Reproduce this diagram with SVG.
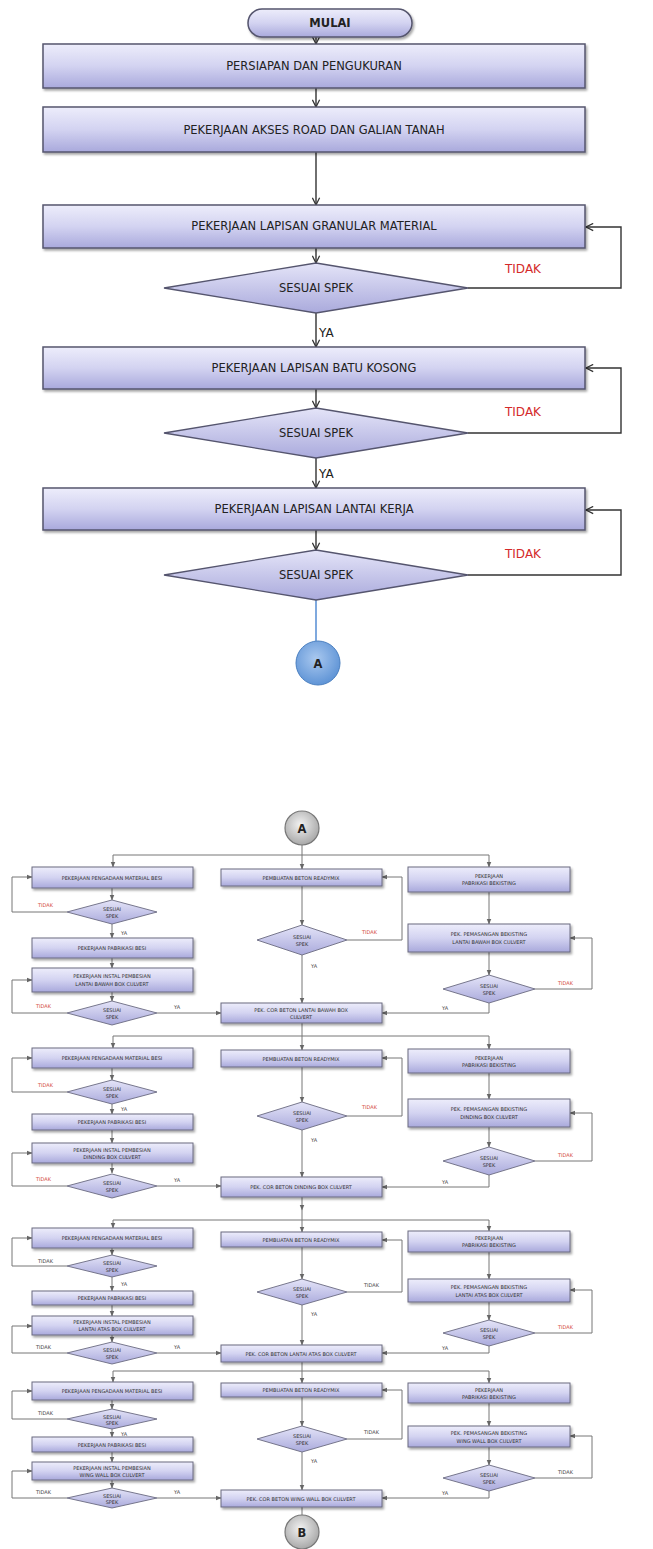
<svg xmlns="http://www.w3.org/2000/svg" width="653" height="1549" viewBox="0 0 653 1549">
  <defs>
    <linearGradient id="boxFill" x1="0" y1="0" x2="0" y2="1">
      <stop offset="0" stop-color="#ededfb"/>
      <stop offset="0.5" stop-color="#d3d3f1"/>
      <stop offset="1" stop-color="#a9a9dc"/>
    </linearGradient>
    <linearGradient id="diaFill" x1="0" y1="0" x2="0" y2="1">
      <stop offset="0" stop-color="#e4e4f8"/>
      <stop offset="1" stop-color="#aaaadc"/>
    </linearGradient>
    <radialGradient id="blueDot" cx="0.45" cy="0.4" r="0.6">
      <stop offset="0" stop-color="#a9c8ef"/>
      <stop offset="1" stop-color="#5f94d6"/>
    </radialGradient>
    <radialGradient id="grayDot" cx="0.45" cy="0.4" r="0.6">
      <stop offset="0" stop-color="#f2f2f2"/>
      <stop offset="1" stop-color="#a8a8a8"/>
    </radialGradient>
    <filter id="shadow" x="-5%" y="-20%" width="110%" height="150%">
      <feDropShadow dx="1.5" dy="2" stdDeviation="1" flood-color="#000" flood-opacity="0.35"/>
    </filter>
    <marker id="chev" viewBox="0 0 10 10" refX="9" refY="5" markerWidth="9" markerHeight="9" orient="auto" markerUnits="userSpaceOnUse">
      <path d="M1,1 L9,5 L1,9" fill="none" stroke="#333" stroke-width="1.4"/>
    </marker>
    <marker id="tri" viewBox="0 0 10 10" refX="9" refY="5" markerWidth="6" markerHeight="6" orient="auto" markerUnits="userSpaceOnUse">
      <path d="M0,1 L10,5 L0,9 Z" fill="#666"/>
    </marker>
  </defs>
  <style>
    .box { fill: url(#boxFill); stroke: #55556e; stroke-width: 1.5; filter: url(#shadow); }
    .sbox { fill: url(#boxFill); stroke: #6a6a80; stroke-width: 1; filter: url(#shadow); }
    .dia { fill: url(#diaFill); stroke: #55556e; stroke-width: 1.3; }
    .sdia { fill: url(#diaFill); stroke: #6a6a80; stroke-width: 0.9; }
    .t { font-family: "DejaVu Sans", Verdana, sans-serif; font-size: 11.5px; fill: #222; text-anchor: middle; dominant-baseline: central; }
    .st { font-family: "DejaVu Sans", Verdana, sans-serif; font-size: 5px; fill: #333; text-anchor: middle; dominant-baseline: central; }
    .no { font-family: "DejaVu Sans", Verdana, sans-serif; font-size: 12px; fill: #d42a2a; dominant-baseline: central; }
    .yes { font-family: "DejaVu Sans", Verdana, sans-serif; font-size: 12px; fill: #222; dominant-baseline: central; }
    .sno { font-family: "DejaVu Sans", Verdana, sans-serif; font-size: 5px; fill: #d44a3a; dominant-baseline: central; }
    .snog { font-family: "DejaVu Sans", Verdana, sans-serif; font-size: 5px; fill: #444; dominant-baseline: central; }
    .syes { font-family: "DejaVu Sans", Verdana, sans-serif; font-size: 5px; fill: #444; dominant-baseline: central; }
    .ln { fill: none; stroke: #333; stroke-width: 1.4; }
    .lna { fill: none; stroke: #333; stroke-width: 1.4; marker-end: url(#chev); }
    .sl { fill: none; stroke: #777; stroke-width: 1; }
    .sla { fill: none; stroke: #777; stroke-width: 1; marker-end: url(#tri); }
  </style>

  <!-- ===== connectors ===== -->
  <g id="connectors">
    <!-- upper flow -->
    <path class="lna" d="M316,37 V44"/>
    <path class="lna" d="M316,88 V107"/>
    <path class="lna" d="M316,152 V205"/>
    <path class="lna" d="M316,248 V263"/>
    <path class="lna" d="M468,288 H621 V227 H586"/>
    <path class="lna" d="M316,313 V347"/>
    <path class="lna" d="M316,389 V408"/>
    <path class="lna" d="M468,433 H621 V368 H586"/>
    <path class="lna" d="M316,458 V488"/>
    <path class="lna" d="M316,530 V550"/>
    <path class="lna" d="M468,575 H621 V510 H586"/>
    <path d="M316,600 V641" fill="none" stroke="#5f94d6" stroke-width="1.6"/>

    <!-- lower flow, section 1: bottom slab -->
    <path class="sl" d="M302,845 V855"/>
    <path class="sl" d="M113,855 H489"/>
    <path class="sla" d="M113,855 V867"/>
    <path class="sla" d="M302,855 V869"/>
    <path class="sla" d="M489,855 V867"/>
    <path class="sla" d="M112,888 V900"/>
    <path class="sla" d="M67,912 H12 V877 H32"/>
    <path class="sla" d="M112,924 V938"/>
    <path class="sla" d="M112,958 V968"/>
    <path class="sla" d="M112,992 V1001"/>
    <path class="sla" d="M67,1013 H12 V980 H32"/>
    <path class="sla" d="M157,1013 H221"/>
    <path class="sla" d="M302,886 V925"/>
    <path class="sla" d="M347,940 H402 V877 H382"/>
    <path class="sla" d="M302,955 V1003"/>
    <path class="sla" d="M489,892 V924"/>
    <path class="sla" d="M489,952 V975"/>
    <path class="sla" d="M535,989 H592 V938 H570"/>
    <path class="sla" d="M489,1003 V1013 H382"/>

    <!-- section 2: walls -->
    <path class="sl" d="M302,1023 V1036"/>
    <path class="sl" d="M113,1036 H489"/>
    <path class="sla" d="M113,1036 V1048"/>
    <path class="sla" d="M302,1036 V1050"/>
    <path class="sla" d="M489,1036 V1049"/>
    <path class="sla" d="M112,1068 V1080"/>
    <path class="sla" d="M67,1092 H12 V1058 H32"/>
    <path class="sla" d="M112,1104 V1114"/>
    <path class="sla" d="M112,1130 V1143"/>
    <path class="sla" d="M112,1163 V1173"/>
    <path class="sla" d="M67,1186 H12 V1153 H32"/>
    <path class="sla" d="M157,1186 H221"/>
    <path class="sla" d="M302,1067 V1102"/>
    <path class="sla" d="M347,1116 H402 V1058 H382"/>
    <path class="sla" d="M302,1130 V1177"/>
    <path class="sla" d="M489,1073 V1099"/>
    <path class="sla" d="M489,1127 V1147"/>
    <path class="sla" d="M535,1161 H592 V1113 H570"/>
    <path class="sla" d="M489,1175 V1187 H382"/>

    <!-- section 3: top slab -->
    <path class="sla" d="M302,1197 V1210"/>
    <path class="sl" d="M302,1210 V1220"/>
    <path class="sl" d="M113,1220 H489"/>
    <path class="sla" d="M113,1220 V1228"/>
    <path class="sla" d="M302,1220 V1232"/>
    <path class="sla" d="M489,1220 V1231"/>
    <path class="sla" d="M112,1248 V1255"/>
    <path class="sla" d="M67,1266 H12 V1238 H32"/>
    <path class="sla" d="M112,1277 V1291"/>
    <path class="sla" d="M112,1305 V1316"/>
    <path class="sla" d="M112,1335 V1342"/>
    <path class="sla" d="M67,1353 H12 V1326 H32"/>
    <path class="sla" d="M157,1353 H221"/>
    <path class="sla" d="M302,1247 V1279"/>
    <path class="sla" d="M347,1292 H402 V1240 H382"/>
    <path class="sla" d="M302,1305 V1345"/>
    <path class="sla" d="M489,1252 V1279"/>
    <path class="sla" d="M489,1302 V1320"/>
    <path class="sla" d="M535,1333 H592 V1290 H570"/>
    <path class="sla" d="M489,1346 V1353 H382"/>

    <!-- section 4: wing walls -->
    <path class="sl" d="M302,1362 V1371"/>
    <path class="sl" d="M113,1371 H489"/>
    <path class="sla" d="M113,1371 V1382"/>
    <path class="sla" d="M302,1371 V1383"/>
    <path class="sla" d="M489,1371 V1383"/>
    <path class="sla" d="M112,1400 V1409"/>
    <path class="sla" d="M67,1419 H12 V1391 H32"/>
    <path class="sla" d="M112,1429 V1437"/>
    <path class="sla" d="M112,1452 V1462"/>
    <path class="sla" d="M112,1480 V1488"/>
    <path class="sla" d="M67,1498 H12 V1471 H32"/>
    <path class="sla" d="M157,1498 H221"/>
    <path class="sla" d="M302,1397 V1426"/>
    <path class="sla" d="M347,1439 H402 V1390 H382"/>
    <path class="sla" d="M302,1452 V1490"/>
    <path class="sla" d="M489,1403 V1426"/>
    <path class="sla" d="M489,1447 V1465"/>
    <path class="sla" d="M535,1478 H592 V1436 H570"/>
    <path class="sla" d="M489,1491 V1498 H382"/>
    <path class="sl" d="M302,1507 V1515"/>
  </g>

  <!-- ===== upper flow nodes ===== -->
  <g id="start">
    <rect x="248" y="9" width="164" height="28" rx="14" ry="14" class="box"/>
    <text x="330" y="23" class="t" font-weight="bold">MULAI</text>
  </g>
  <g id="persiapan">
    <rect x="43" y="44" width="542" height="44" class="box"/>
    <text x="314" y="66" class="t">PERSIAPAN DAN PENGUKURAN</text>
  </g>
  <g id="akses-road">
    <rect x="43" y="107" width="542" height="45" class="box"/>
    <text x="314" y="130" class="t">PEKERJAAN AKSES ROAD DAN GALIAN TANAH</text>
  </g>
  <g id="granular">
    <rect x="43" y="205" width="542" height="43" class="box"/>
    <text x="314" y="226" class="t">PEKERJAAN LAPISAN GRANULAR MATERIAL</text>
  </g>
  <g id="cek-granular">
    <polygon points="316,263 468,288 316,313 164,288" class="dia"/>
    <text x="316" y="288" class="t">SESUAI SPEK</text>
    <text x="505" y="269" class="no">TIDAK</text>
    <text x="319" y="333" class="yes">YA</text>
  </g>
  <g id="batu-kosong">
    <rect x="43" y="347" width="542" height="42" class="box"/>
    <text x="314" y="368" class="t">PEKERJAAN LAPISAN BATU KOSONG</text>
  </g>
  <g id="cek-batu">
    <polygon points="316,408 468,433 316,458 164,433" class="dia"/>
    <text x="316" y="433" class="t">SESUAI SPEK</text>
    <text x="505" y="412" class="no">TIDAK</text>
    <text x="319" y="474" class="yes">YA</text>
  </g>
  <g id="lantai-kerja">
    <rect x="43" y="488" width="542" height="42" class="box"/>
    <text x="314" y="509" class="t">PEKERJAAN LAPISAN LANTAI KERJA</text>
  </g>
  <g id="cek-lantai-kerja">
    <polygon points="316,550 468,575 316,600 164,575" class="dia"/>
    <text x="316" y="575" class="t">SESUAI SPEK</text>
    <text x="505" y="554" class="no">TIDAK</text>
  </g>
  <g id="connector-a">
    <circle cx="318" cy="663" r="22" fill="url(#blueDot)" stroke="#4a7fc0" stroke-width="1"/>
    <text x="318" y="664" class="t" font-size="10px" font-weight="bold" fill="#1a2a4a">A</text>
  </g>

  <!-- ===== lower flow ===== -->
  <g id="connector-a2">
    <circle cx="302" cy="828" r="17" fill="url(#grayDot)" stroke="#777" stroke-width="1.2"/>
    <text x="302" y="829" class="t" font-size="10px" font-weight="bold" fill="#333">A</text>
  </g>

  <!-- section 1 -->
  <g id="s1-besi-material">
    <rect x="32" y="867" width="161" height="21" class="sbox"/>
    <text x="112" y="877.5" class="st">PEKERJAAN PENGADAAN MATERIAL BESI</text>
  </g>
  <g id="s1-cek-besi">
    <polygon points="112,900 157,912 112,924 67,912" class="sdia"/>
    <text x="112" y="909" class="st">SESUAI</text>
    <text x="112" y="915.5" class="st">SPEK</text>
    <text x="38" y="905" class="sno">TIDAK</text>
    <text x="121" y="933" class="syes">YA</text>
  </g>
  <g id="s1-pabrikasi-besi">
    <rect x="32" y="938" width="161" height="20" class="sbox"/>
    <text x="112" y="948" class="st">PEKERJAAN PABRIKASI BESI</text>
  </g>
  <g id="s1-instal-besi">
    <rect x="32" y="968" width="161" height="24" class="sbox"/>
    <text x="112" y="976" class="st">PEKERJAAN INSTAL PEMBESIAN</text>
    <text x="112" y="984" class="st">LANTAI BAWAH BOX CULVERT</text>
  </g>
  <g id="s1-cek-instal">
    <polygon points="112,1001 157,1013 112,1025 67,1013" class="sdia"/>
    <text x="112" y="1010" class="st">SESUAI</text>
    <text x="112" y="1016.5" class="st">SPEK</text>
    <text x="36" y="1006" class="sno">TIDAK</text>
    <text x="174" y="1007" class="syes">YA</text>
  </g>
  <g id="s1-readymix">
    <rect x="221" y="869" width="161" height="17" class="sbox"/>
    <text x="301" y="877.5" class="st">PEMBUATAN BETON READYMIX</text>
  </g>
  <g id="s1-cek-readymix">
    <polygon points="302,925 347,940 302,955 257,940" class="sdia"/>
    <text x="302" y="937" class="st">SESUAI</text>
    <text x="302" y="943.5" class="st">SPEK</text>
    <text x="362" y="932" class="sno">TIDAK</text>
    <text x="311" y="966" class="syes">YA</text>
  </g>
  <g id="s1-cor">
    <rect x="221" y="1003" width="161" height="20" class="sbox"/>
    <text x="301" y="1009.5" class="st">PEK. COR BETON LANTAI BAWAH BOX</text>
    <text x="301" y="1016.5" class="st">CULVERT</text>
  </g>
  <g id="s1-pabrikasi-bekisting">
    <rect x="408" y="867" width="162" height="25" class="sbox"/>
    <text x="489" y="876" class="st">PEKERJAAN</text>
    <text x="489" y="883" class="st">PABRIKASI BEKISTING</text>
  </g>
  <g id="s1-pasang-bekisting">
    <rect x="408" y="924" width="162" height="28" class="sbox"/>
    <text x="489" y="934" class="st">PEK. PEMASANGAN BEKISTING</text>
    <text x="489" y="942" class="st">LANTAI BAWAH BOX CULVERT</text>
  </g>
  <g id="s1-cek-bekisting">
    <polygon points="489,975 535,989 489,1003 443,989" class="sdia"/>
    <text x="489" y="986" class="st">SESUAI</text>
    <text x="489" y="992.5" class="st">SPEK</text>
    <text x="558" y="983" class="sno">TIDAK</text>
    <text x="442" y="1008" class="syes">YA</text>
  </g>

  <!-- section 2 -->
  <g id="s2-besi-material">
    <rect x="32" y="1048" width="161" height="20" class="sbox"/>
    <text x="112" y="1058" class="st">PEKERJAAN PENGADAAN MATERIAL BESI</text>
  </g>
  <g id="s2-cek-besi">
    <polygon points="112,1080 157,1092 112,1104 67,1092" class="sdia"/>
    <text x="112" y="1089" class="st">SESUAI</text>
    <text x="112" y="1095.5" class="st">SPEK</text>
    <text x="38" y="1085" class="sno" fill="#d07030">TIDAK</text>
    <text x="121" y="1109" class="syes">YA</text>
  </g>
  <g id="s2-pabrikasi-besi">
    <rect x="32" y="1114" width="161" height="16" class="sbox"/>
    <text x="112" y="1122" class="st">PEKERJAAN PABRIKASI BESI</text>
  </g>
  <g id="s2-instal-besi">
    <rect x="32" y="1143" width="161" height="20" class="sbox"/>
    <text x="112" y="1149.5" class="st">PEKERJAAN INSTAL PEMBESIAN</text>
    <text x="112" y="1156.5" class="st">DINDING BOX CULVERT</text>
  </g>
  <g id="s2-cek-instal">
    <polygon points="112,1174 157,1186 112,1198 67,1186" class="sdia"/>
    <text x="112" y="1183" class="st">SESUAI</text>
    <text x="112" y="1189.5" class="st">SPEK</text>
    <text x="36" y="1179" class="sno">TIDAK</text>
    <text x="174" y="1180" class="syes">YA</text>
  </g>
  <g id="s2-readymix">
    <rect x="221" y="1050" width="161" height="17" class="sbox"/>
    <text x="301" y="1058.5" class="st">PEMBUATAN BETON READYMIX</text>
  </g>
  <g id="s2-cek-readymix">
    <polygon points="302,1102 347,1116 302,1130 257,1116" class="sdia"/>
    <text x="302" y="1113" class="st">SESUAI</text>
    <text x="302" y="1119.5" class="st">SPEK</text>
    <text x="362" y="1107" class="sno">TIDAK</text>
    <text x="311" y="1140" class="syes">YA</text>
  </g>
  <g id="s2-cor">
    <rect x="221" y="1177" width="161" height="20" class="sbox"/>
    <text x="301" y="1187" class="st">PEK. COR BETON DINDING BOX CULVERT</text>
  </g>
  <g id="s2-pabrikasi-bekisting">
    <rect x="408" y="1049" width="162" height="24" class="sbox"/>
    <text x="489" y="1057.5" class="st">PEKERJAAN</text>
    <text x="489" y="1064.5" class="st">PABRIKASI BEKISTING</text>
  </g>
  <g id="s2-pasang-bekisting">
    <rect x="408" y="1099" width="162" height="28" class="sbox"/>
    <text x="489" y="1109" class="st">PEK. PEMASANGAN BEKISTING</text>
    <text x="489" y="1117" class="st">DINDING BOX CULVERT</text>
  </g>
  <g id="s2-cek-bekisting">
    <polygon points="489,1147 535,1161 489,1175 443,1161" class="sdia"/>
    <text x="489" y="1158" class="st">SESUAI</text>
    <text x="489" y="1164.5" class="st">SPEK</text>
    <text x="558" y="1155" class="sno">TIDAK</text>
    <text x="442" y="1182" class="syes">YA</text>
  </g>

  <!-- section 3 -->
  <g id="s3-besi-material">
    <rect x="32" y="1228" width="161" height="20" class="sbox"/>
    <text x="112" y="1238" class="st">PEKERJAAN PENGADAAN MATERIAL BESI</text>
  </g>
  <g id="s3-cek-besi">
    <polygon points="112,1255 157,1266 112,1277 67,1266" class="sdia"/>
    <text x="112" y="1263" class="st">SESUAI</text>
    <text x="112" y="1269.5" class="st">SPEK</text>
    <text x="38" y="1261" class="snog">TIDAK</text>
    <text x="121" y="1284" class="syes">YA</text>
  </g>
  <g id="s3-pabrikasi-besi">
    <rect x="32" y="1291" width="161" height="14" class="sbox"/>
    <text x="112" y="1298" class="st">PEKERJAAN PABRIKASI BESI</text>
  </g>
  <g id="s3-instal-besi">
    <rect x="32" y="1316" width="161" height="19" class="sbox"/>
    <text x="112" y="1322" class="st">PEKERJAAN INSTAL PEMBESIAN</text>
    <text x="112" y="1329" class="st">LANTAI ATAS BOX CULVERT</text>
  </g>
  <g id="s3-cek-instal">
    <polygon points="112,1342 157,1353 112,1364 67,1353" class="sdia"/>
    <text x="112" y="1350" class="st">SESUAI</text>
    <text x="112" y="1356.5" class="st">SPEK</text>
    <text x="36" y="1347" class="snog">TIDAK</text>
    <text x="174" y="1347" class="syes">YA</text>
  </g>
  <g id="s3-readymix">
    <rect x="221" y="1232" width="161" height="15" class="sbox"/>
    <text x="301" y="1239.5" class="st">PEMBUATAN BETON READYMIX</text>
  </g>
  <g id="s3-cek-readymix">
    <polygon points="302,1279 347,1292 302,1305 257,1292" class="sdia"/>
    <text x="302" y="1289" class="st">SESUAI</text>
    <text x="302" y="1295.5" class="st">SPEK</text>
    <text x="364" y="1285" class="snog">TIDAK</text>
    <text x="311" y="1314" class="syes">YA</text>
  </g>
  <g id="s3-cor">
    <rect x="221" y="1345" width="161" height="17" class="sbox"/>
    <text x="301" y="1353.5" class="st">PEK. COR BETON LANTAI ATAS BOX CULVERT</text>
  </g>
  <g id="s3-pabrikasi-bekisting">
    <rect x="408" y="1231" width="162" height="21" class="sbox"/>
    <text x="489" y="1238" class="st">PEKERJAAN</text>
    <text x="489" y="1245" class="st">PABRIKASI BEKISTING</text>
  </g>
  <g id="s3-pasang-bekisting">
    <rect x="408" y="1279" width="162" height="23" class="sbox"/>
    <text x="489" y="1287" class="st">PEK. PEMASANGAN BEKISTING</text>
    <text x="489" y="1294.5" class="st">LANTAI ATAS BOX CULVERT</text>
  </g>
  <g id="s3-cek-bekisting">
    <polygon points="489,1320 535,1333 489,1346 443,1333" class="sdia"/>
    <text x="489" y="1330" class="st">SESUAI</text>
    <text x="489" y="1336.5" class="st">SPEK</text>
    <text x="558" y="1327" class="sno">TIDAK</text>
    <text x="442" y="1348" class="syes">YA</text>
  </g>

  <!-- section 4 -->
  <g id="s4-besi-material">
    <rect x="32" y="1382" width="161" height="18" class="sbox"/>
    <text x="112" y="1391" class="st">PEKERJAAN PENGADAAN MATERIAL BESI</text>
  </g>
  <g id="s4-cek-besi">
    <polygon points="112,1409 157,1419 112,1429 67,1419" class="sdia"/>
    <text x="112" y="1416.5" class="st">SESUAI</text>
    <text x="112" y="1422.5" class="st">SPEK</text>
    <text x="38" y="1413" class="snog">TIDAK</text>
    <text x="121" y="1434" class="syes">YA</text>
  </g>
  <g id="s4-pabrikasi-besi">
    <rect x="32" y="1437" width="161" height="15" class="sbox"/>
    <text x="112" y="1444.5" class="st">PEKERJAAN PABRIKASI BESI</text>
  </g>
  <g id="s4-instal-besi">
    <rect x="32" y="1462" width="161" height="18" class="sbox"/>
    <text x="112" y="1467.5" class="st">PEKERJAAN INSTAL PEMBESIAN</text>
    <text x="112" y="1474.5" class="st">WING WALL BOX CULVERT</text>
  </g>
  <g id="s4-cek-instal">
    <polygon points="112,1488 157,1498 112,1508 67,1498" class="sdia"/>
    <text x="112" y="1495.5" class="st">SESUAI</text>
    <text x="112" y="1501.5" class="st">SPEK</text>
    <text x="36" y="1492" class="snog">TIDAK</text>
    <text x="174" y="1492" class="syes">YA</text>
  </g>
  <g id="s4-readymix">
    <rect x="221" y="1383" width="161" height="14" class="sbox"/>
    <text x="301" y="1390" class="st">PEMBUATAN BETON READYMIX</text>
  </g>
  <g id="s4-cek-readymix">
    <polygon points="302,1426 347,1439 302,1452 257,1439" class="sdia"/>
    <text x="302" y="1436" class="st">SESUAI</text>
    <text x="302" y="1442.5" class="st">SPEK</text>
    <text x="364" y="1432" class="snog">TIDAK</text>
    <text x="311" y="1461" class="syes">YA</text>
  </g>
  <g id="s4-cor">
    <rect x="221" y="1490" width="161" height="17" class="sbox"/>
    <text x="301" y="1498.5" class="st">PEK. COR BETON WING WALL BOX CULVERT</text>
  </g>
  <g id="s4-pabrikasi-bekisting">
    <rect x="408" y="1383" width="162" height="20" class="sbox"/>
    <text x="489" y="1389.5" class="st">PEKERJAAN</text>
    <text x="489" y="1396.5" class="st">PABRIKASI BEKISTING</text>
  </g>
  <g id="s4-pasang-bekisting">
    <rect x="408" y="1426" width="162" height="21" class="sbox"/>
    <text x="489" y="1433" class="st">PEK. PEMASANGAN BEKISTING</text>
    <text x="489" y="1440.5" class="st">WING WALL BOX CULVERT</text>
  </g>
  <g id="s4-cek-bekisting">
    <polygon points="489,1465 535,1478 489,1491 443,1478" class="sdia"/>
    <text x="489" y="1475" class="st">SESUAI</text>
    <text x="489" y="1481.5" class="st">SPEK</text>
    <text x="558" y="1472" class="snog">TIDAK</text>
    <text x="442" y="1493" class="syes">YA</text>
  </g>

  <g id="connector-b">
    <circle cx="302" cy="1532" r="17" fill="url(#grayDot)" stroke="#777" stroke-width="1.2"/>
    <text x="302" y="1533" class="t" font-size="10px" font-weight="bold" fill="#333">B</text>
  </g>
</svg>
